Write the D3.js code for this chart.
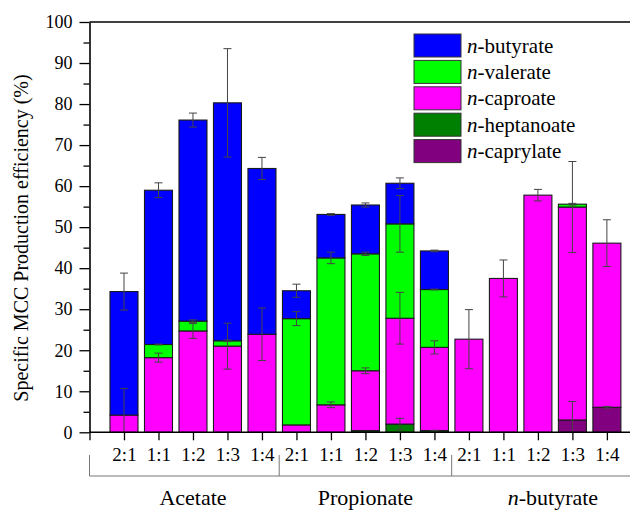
<!DOCTYPE html>
<html>
<head>
<meta charset="utf-8">
<script src="https://cdn.jsdelivr.net/npm/d3@7"></script>
<style>
  html, body { margin: 0; padding: 0; background: #fff; }
  svg { display: block; }
  svg text { font-family: "Liberation Serif", "Times New Roman", serif; }
</style>
</head>
<body>
<svg id="chart" width="630" height="510"></svg>
<script>
// Substrate groups and electron-donor ratios along the x axis
const groups = ["Acetate", "Propionate", "n-butyrate"];
const ratios = ["2:1", "1:1", "1:2", "1:3", "1:4"];

// Product shares (%) for each of the 15 conditions, stacked bottom to top
const heptanoate = [0, 0, 0, 0, 0, 0, 0, 0.4, 2.0, 0.4, 0, 0, 0, 0, 0];
const caprylate  = [0, 0, 0, 0, 0, 0, 0, 0, 0, 0, 0, 0, 0, 3.0, 6.1];
const caproate   = [4.2, 18.2, 24.7, 21.0, 23.9, 1.8, 6.7, 14.6, 25.8, 20.3, 22.7, 37.5, 57.8, 51.9, 40.0];
const valerate   = [0, 3.2, 2.4, 1.3, 0, 25.9, 35.8, 28.5, 23.0, 14.1, 0, 0, 0, 0.7, 0];
const butyrate   = [30.1, 37.6, 49.0, 58.0, 40.4, 6.8, 10.6, 11.9, 9.9, 9.4, 0, 0, 0, 0, 0];

// Standard deviations, drawn at the top of each segment
const heptanoateErr = [0, 0, 0, 0, 0, 0, 0, 0, 1.4, 0.1, 0, 0, 0, 0, 0];
const caprylateErr  = [0, 0, 0, 0, 0, 0, 0, 0, 0, 0, 0, 0, 0, 4.5, 0.2];
const caproateErr   = [6.5, 1.1, 1.8, 5.6, 6.4, 0, 0.7, 0.7, 6.3, 1.6, 7.2, 4.5, 1.4, 11.1, 5.7];
const valerateErr   = [0, 0.1, 0.3, 0.2, 0, 1.7, 1.4, 0.4, 6.9, 0.1, 0, 0, 0, 0.2, 0];
const butyrateErr   = [4.5, 1.8, 1.7, 13.2, 2.7, 1.6, 0.2, 0.5, 1.3, 0.2, 0, 0, 0, 0, 0];

const yTicks = [0, 10, 20, 30, 40, 50, 60, 70, 80, 90, 100];

const series = [
  { key: "heptanoate", label: "heptanoate", color: "#008000", values: heptanoate, err: heptanoateErr },
  { key: "caprylate",  label: "caprylate",  color: "#800080", values: caprylate,  err: caprylateErr },
  { key: "caproate",   label: "caproate",   color: "#FF00FF", values: caproate,   err: caproateErr },
  { key: "valerate",   label: "valerate",   color: "#00FF00", values: valerate,   err: valerateErr },
  { key: "butyrate",   label: "butyrate",   color: "#0000FF", values: butyrate,   err: butyrateErr }
];
const legendOrder = ["butyrate", "valerate", "caproate", "heptanoate", "caprylate"];

const categories = [];
groups.forEach(g => ratios.forEach(r => categories.push(r)));

const rows = categories.map((c, i) => {
  const row = { i };
  series.forEach(s => { row[s.key] = s.values[i]; });
  return row;
});
const stacked = d3.stack().keys(series.map(s => s.key))(rows);

const svg = d3.select("#chart");
const plotLeft = 89.5, plotRight = 630, plotTop = 22, plotBottom = 432.3;
const serif = "Liberation Serif, Times New Roman, serif";

const x = d3.scaleLinear().domain([-1, 14.67]).range([plotLeft, plotRight]);
const y = d3.scaleLinear().domain([0, 100]).range([plotBottom, plotTop]);
const barW = 28;

svg.append("defs").append("clipPath").attr("id", "plotClip")
  .append("rect").attr("x", plotLeft).attr("y", plotTop)
  .attr("width", plotRight - plotLeft).attr("height", plotBottom - plotTop);

// Stacked bars
const plot = svg.append("g").attr("clip-path", "url(#plotClip)");
stacked.forEach((layer, si) => {
  const s = series[si];
  plot.append("g").selectAll("rect")
    .data(layer.filter(d => d[1] - d[0] > 0))
    .join("rect")
    .attr("x", d => x(d.data.i) - barW / 2)
    .attr("width", barW)
    .attr("y", d => y(d[1]))
    .attr("height", d => y(d[0]) - y(d[1]))
    .attr("fill", s.color)
    .attr("stroke", "#1a1a1a")
    .attr("stroke-width", 1.1);
});

// Error bars over the bars
const errG = plot.append("g").attr("stroke", "#444").attr("stroke-width", 1).attr("fill", "none");
stacked.forEach((layer, si) => {
  const s = series[si];
  layer.forEach(d => {
    const i = d.data.i;
    const e = s.err[i];
    if (!(d[1] - d[0] > 0) || !(e > 0)) return;
    const cx = x(i);
    const yHi = y(d[1] + e), yLo = y(d[1] - e);
    errG.append("line").attr("x1", cx).attr("x2", cx).attr("y1", yHi).attr("y2", yLo);
    errG.append("line").attr("x1", cx - 4).attr("x2", cx + 4).attr("y1", yHi).attr("y2", yHi);
    errG.append("line").attr("x1", cx - 4).attr("x2", cx + 4).attr("y1", yLo).attr("y2", yLo);
  });
});

// Y axis with major and minor ticks
const minor = d3.range(5, 100, 10);
svg.append("g").attr("transform", `translate(${plotLeft},0)`)
  .call(d3.axisLeft(y).tickValues(minor).tickSize(6).tickFormat(""))
  .call(g => g.select(".domain").remove())
  .selectAll("line").attr("stroke", "#000").attr("stroke-width", 1.3);
const yAxis = svg.append("g").attr("transform", `translate(${plotLeft},0)`)
  .attr("font-family", serif)
  .call(d3.axisLeft(y).tickValues(yTicks).tickSize(10).tickPadding(7).tickSizeOuter(0));
yAxis.attr("font-family", serif);
yAxis.selectAll("line").attr("stroke", "#000").attr("stroke-width", 1.3);
yAxis.select(".domain").attr("stroke", "#000").attr("stroke-width", 1.6);
yAxis.selectAll("text").attr("font-size", 18).attr("fill", "#000");

// X axis with ratio labels
const xAxis = svg.append("g").attr("transform", `translate(0,${plotBottom})`)
  .call(d3.axisBottom(x).tickValues(d3.range(-1, 15)).tickSize(8).tickPadding(7)
    .tickFormat(i => i >= 0 ? categories[i] : ""));
xAxis.attr("font-family", serif);
xAxis.select(".domain").attr("d", `M${plotLeft},0H${plotRight}`).attr("stroke", "#000").attr("stroke-width", 1.6);
xAxis.selectAll("line").attr("stroke", "#000").attr("stroke-width", 1.3);
xAxis.selectAll("text").attr("font-size", 19).attr("fill", "#000");

// Top frame line
svg.append("line").attr("x1", plotLeft).attr("x2", plotRight).attr("y1", plotTop).attr("y2", plotTop)
  .attr("stroke", "#000").attr("stroke-width", 1.6);

// Group brackets and labels
const br = svg.append("g").attr("stroke", "#777").attr("stroke-width", 1);
const dividers = [-1, 4.5, 9.5];
br.append("line").attr("x1", plotLeft).attr("x2", plotRight).attr("y1", 476).attr("y2", 476);
dividers.forEach(p => {
  br.append("line").attr("x1", x(p)).attr("x2", x(p)).attr("y1", 455).attr("y2", 476);
});
const groupLabels = svg.append("g").attr("font-size", 22).attr("text-anchor", "middle")
  .attr("fill", "#000").attr("font-family", serif);
groups.forEach((g, gi) => {
  const t = groupLabels.append("text").attr("x", x(gi * 5 + 2) + (gi === 2 ? 15 : 0)).attr("y", 505);
  if (g.startsWith("n-")) {
    t.append("tspan").attr("font-style", "italic").text("n");
    t.append("tspan").text(g.slice(1));
  } else {
    t.text(g);
  }
});

// Y axis title
svg.append("text")
  .attr("transform", "translate(28,238) rotate(-90)")
  .attr("text-anchor", "middle")
  .attr("font-size", 20)
  .attr("font-family", serif)
  .attr("fill", "#000")
  .text("Specific MCC Production efficiency (%)");

// Legend
const legend = svg.append("g").attr("transform", "translate(414,34)").attr("font-family", serif);
legendOrder.forEach((k, li) => {
  const s = series.find(d => d.key === k);
  const row = legend.append("g").attr("transform", `translate(0,${li * 26.4})`);
  row.append("rect").attr("width", 47).attr("height", 23)
    .attr("fill", s.color).attr("stroke", "#333").attr("stroke-width", 1);
  const t = row.append("text").attr("x", 53).attr("y", 18.5).attr("font-size", 21).attr("fill", "#000");
  t.append("tspan").attr("font-style", "italic").text("n");
  t.append("tspan").text("-" + s.label);
});
</script>
</body>
</html>
